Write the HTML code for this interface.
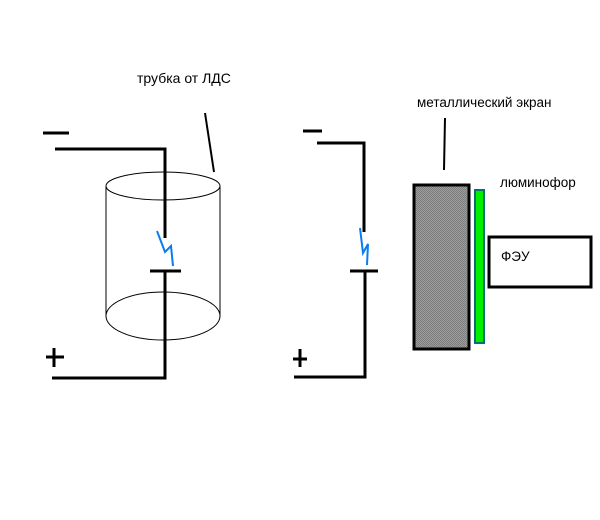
<!DOCTYPE html>
<html><head><meta charset="utf-8"><style>html,body{margin:0;padding:0;background:#fff}svg{display:block}</style></head>
<body>
<svg width="600" height="520" viewBox="0 0 600 520" xmlns="http://www.w3.org/2000/svg">
<defs><pattern id="p" width="2" height="2" patternUnits="userSpaceOnUse"><rect width="2" height="2" fill="#a0a0a0"/><rect width="1" height="1" fill="#7a7a7a"/><rect x="1" y="1" width="1" height="1" fill="#7a7a7a"/></pattern></defs>
<g fill="none" stroke="#000" stroke-width="1">
<ellipse cx="163" cy="186" rx="57" ry="14"/>
<ellipse cx="163" cy="316" rx="57" ry="24"/>
<line x1="106" y1="186" x2="106" y2="317"/>
<line x1="220" y1="186" x2="220" y2="317"/>
</g>
<g stroke="#000" stroke-width="3" fill="none">
<line x1="43" y1="133" x2="69" y2="133"/>
<polyline points="55,149 165,149 165,238"/>
<line x1="150" y1="271" x2="181" y2="271"/>
<polyline points="165,271 165,378 52,378"/>
<line x1="46" y1="357" x2="64" y2="357"/><line x1="54" y1="348" x2="54" y2="367"/>
<line x1="303" y1="131" x2="322" y2="131"/>
<polyline points="317,143 364,143 364,232"/>
<line x1="350" y1="271" x2="378" y2="271"/>
<polyline points="365,271 365,377 294,377"/>
<line x1="293" y1="359" x2="307" y2="359"/><line x1="300" y1="349" x2="300" y2="367"/>
</g>
<g stroke="#000" stroke-width="2">
<line x1="205" y1="113" x2="214" y2="172"/>
<line x1="445" y1="118" x2="444" y2="170"/>
</g>
<g stroke="#0a7cf0" stroke-width="2" fill="none">
<polyline points="157,231 165,252 171,246 173,266"/>
<polyline points="360,228 363,253 368,244 367,265"/>
</g>
<rect x="414" y="185" width="55" height="164" fill="url(#p)" stroke="#000" stroke-width="3"/>
<rect x="475" y="190" width="9" height="153" fill="#00ee00" stroke="#087070" stroke-width="2"/>
<rect x="489" y="237" width="102" height="50" fill="#fff" stroke="#000" stroke-width="3"/>
<g font-family="Liberation Sans, DejaVu Sans, sans-serif" font-size="13.5" fill="#000">
<text x="137" y="83" font-size="14">трубка от ЛДС</text>
<text x="417" y="107">металлический экран</text>
<text x="500" y="187">люминофор</text>
<text x="501" y="261">ФЭУ</text>
</g>
</svg>
</body></html>
